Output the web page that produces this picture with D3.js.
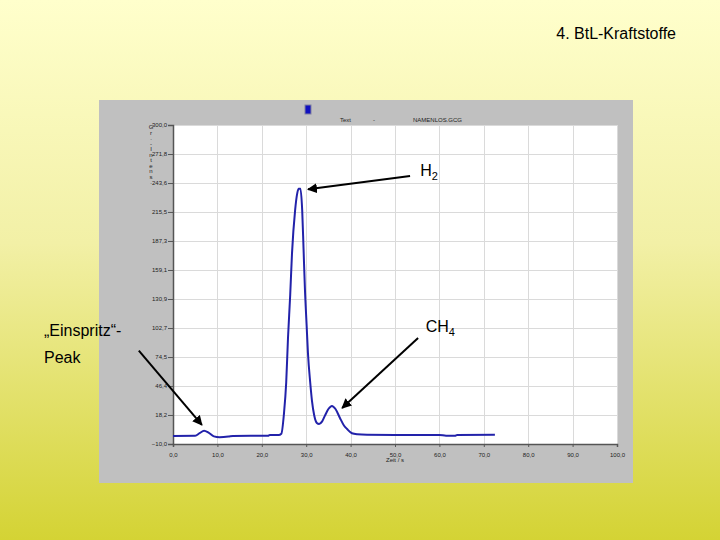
<!DOCTYPE html>
<html>
<head>
<meta charset="utf-8">
<script src="https://d3js.org/d3.v7.min.js"></script>
<style>
  body { margin: 0; }
  svg { display: block; font-family: "Liberation Sans", Arial, sans-serif; }
  .grid line { stroke: #dadada; stroke-width: 1px; }
  .tick-lbl { font-size: 6px; fill: #222; }
  .big { font-size: 16px; fill: #000; }
  .trace { fill: none; stroke: #2222aa; stroke-width: 2px; stroke-linejoin: round; }
</style>
</head>
<body>
<script>
// chromatogram: time (s) and signal
var times   = [0, 5.0, 6.0, 7.0, 8.0, 9.2, 10.5, 12.5, 13.5, 21.4, 21.8, 23.8, 24.4, 25.0, 25.5, 25.9, 26.4, 26.8, 27.5, 28.0, 28.3, 28.7, 29.1, 29.4, 29.7, 30.1, 30.4, 30.9, 31.3, 31.8, 32.4, 32.9, 33.6, 34.2, 35.0, 35.8, 36.6, 37.6, 38.5, 39.2, 40.3, 41.5, 43.7, 50, 60, 61.5, 63.5, 64, 72.5];
var signal  = [-2.2, -2.0, 0.5, 2.8, 1.0, -2.6, -3.4, -2.8, -2.2, -2.0, -1.2, -1.2, 0, 20, 50, 93, 135, 175, 217, 234, 238, 238, 217, 180, 142, 105, 78, 50, 32, 18, 10.5, 9.5, 12, 17.3, 24, 27, 24, 15.3, 8, 4.6, 0.5, -0.5, -1.0, -1.2, -1.2, -2.0, -2.0, -1.2, -1.0];

var xTicks = [0, 10, 20, 30, 40, 50, 60, 70, 80, 90, 100];
var yTicks = [-10, 18.2, 46.4, 74.5, 102.7, 130.9, 159.1, 187.3, 215.5, 243.6, 271.8, 300];

// annotations: [label, sub, text pos t, v, arrow tail t, v, arrow head t, v]
var peakNames = ["H", "CH"];
var peakSubs  = ["2", "4"];
var peakTxt   = [[55.7, 250], [56.9, 99]];
var peakTail  = [[53.4, 250.5], [55.2, 93]];
var peakHead  = [[30.4, 237.5], [38.1, 25]];
var injTail   = [-7.7, 80.7];
var injHead   = [6.5, 8.5];

var W = 720, H = 540;
var svg = d3.select("body").append("svg").attr("width", W).attr("height", H);

var defs = svg.append("defs");
var grad = defs.append("linearGradient").attr("id", "bg").attr("x1", 0).attr("y1", 0).attr("x2", 0).attr("y2", 1);
grad.append("stop").attr("offset", "0%").attr("stop-color", "#ffffcc");
grad.append("stop").attr("offset", "45%").attr("stop-color", "#f2f0a6");
grad.append("stop").attr("offset", "100%").attr("stop-color", "#d4d334");
defs.append("marker").attr("id", "arr").attr("viewBox", "0 0 10 10")
  .attr("refX", 9).attr("refY", 5).attr("markerWidth", 5).attr("markerHeight", 5)
  .attr("orient", "auto")
  .append("path").attr("d", "M0,0 L10,5 L0,10 z").attr("fill", "#000");

svg.append("rect").attr("width", W).attr("height", H).attr("fill", "url(#bg)");

svg.append("text").attr("class", "big").attr("x", 676).attr("y", 39)
  .attr("text-anchor", "end").text("4. BtL-Kraftstoffe");

// grey program window
svg.append("rect").attr("x", 99).attr("y", 100).attr("width", 534).attr("height", 383).attr("fill", "#c0c0c0");
svg.append("rect").attr("x", 305).attr("y", 105).attr("width", 6).attr("height", 9)
  .attr("fill", "#1010c0").attr("stroke", "#8080a0").attr("stroke-width", 1);
svg.append("text").attr("class", "tick-lbl").attr("x", 340).attr("y", 122).attr("font-size", "5px").text("Text");
svg.append("text").attr("class", "tick-lbl").attr("x", 373).attr("y", 122).attr("font-size", "5px").text("-");
svg.append("text").attr("class", "tick-lbl").attr("x", 413).attr("y", 122).attr("font-size", "5px").text("NAMENLOS.GCG");

var x = d3.scaleLinear().domain([0, 100]).range([173, 617]);
var y = d3.scaleLinear().domain([-10, 300]).range([444, 125]);

svg.append("rect").attr("x", x(0)).attr("y", y(300))
  .attr("width", x(100) - x(0)).attr("height", y(-10) - y(300)).attr("fill", "#fff");

var grid = svg.append("g").attr("class", "grid");
grid.selectAll(".gx").data(xTicks.slice(1)).enter().append("line")
  .attr("x1", d => Math.round(x(d)) + 0.5).attr("x2", d => Math.round(x(d)) + 0.5)
  .attr("y1", y(300)).attr("y2", y(-10));
grid.selectAll(".gy").data(yTicks.slice(1)).enter().append("line")
  .attr("y1", d => Math.round(y(d)) + 0.5).attr("y2", d => Math.round(y(d)) + 0.5)
  .attr("x1", x(0)).attr("x2", x(100));

var fmt = d => d3.format(".1f")(d).replace(".", ",");

var yAxis = d3.axisLeft(y).tickValues(yTicks).tickSize(5).tickPadding(1).tickFormat(fmt);
var gy = svg.append("g").attr("transform", "translate(" + x(0) + ",0)").call(yAxis);
var xAxis = d3.axisBottom(x).tickValues(xTicks).tickSize(3).tickPadding(6).tickFormat(fmt);
var gx = svg.append("g").attr("transform", "translate(0," + y(-10) + ")").call(xAxis);
[gx, gy].forEach(function(g) {
  g.selectAll("text").attr("class", "tick-lbl").attr("font-family", null).attr("font-size", null);
  g.selectAll("line").attr("stroke", "#555");
  g.select(".domain").attr("stroke", "#555").attr("stroke-width", 1.5);
});

svg.append("text").attr("class", "tick-lbl").attr("x", x(50)).attr("y", 462)
  .attr("text-anchor", "middle").attr("font-size", "5px").text("Zeit / s");
var yLab = "Gr.-Intens.".split("");
svg.append("g").selectAll("text").data(yLab).enter().append("text")
  .attr("class", "tick-lbl").attr("font-size", "5px").attr("x", 151)
  .attr("y", (d, i) => 129 + i * 5.5).attr("text-anchor", "middle").text(d => d);

var pts = times.map((t, i) => [t, signal[i]]);
var line = d3.line().x(d => x(d[0])).y(d => y(d[1])).curve(d3.curveMonotoneX);
svg.append("path").attr("class", "trace").attr("d", line(pts));

// annotations
var ann = svg.append("g");
peakNames.forEach(function(n, i) {
  ann.append("line")
    .attr("x1", x(peakTail[i][0])).attr("y1", y(peakTail[i][1]))
    .attr("x2", x(peakHead[i][0])).attr("y2", y(peakHead[i][1]))
    .attr("stroke", "#000").attr("stroke-width", 2).attr("marker-end", "url(#arr)");
  var t = ann.append("text").attr("class", "big")
    .attr("x", x(peakTxt[i][0])).attr("y", y(peakTxt[i][1]));
  t.append("tspan").text(n);
  t.append("tspan").attr("font-size", "11px").attr("dy", 4).text(peakSubs[i]);
});
ann.append("line")
  .attr("x1", x(injTail[0])).attr("y1", y(injTail[1]))
  .attr("x2", x(injHead[0])).attr("y2", y(injHead[1]))
  .attr("stroke", "#000").attr("stroke-width", 2).attr("marker-end", "url(#arr)");
ann.append("text").attr("class", "big").attr("x", 44).attr("y", 336).text("\u201EEinspritz\u201C-");
ann.append("text").attr("class", "big").attr("x", 44).attr("y", 363).text("Peak");
</script>
</body>
</html>
